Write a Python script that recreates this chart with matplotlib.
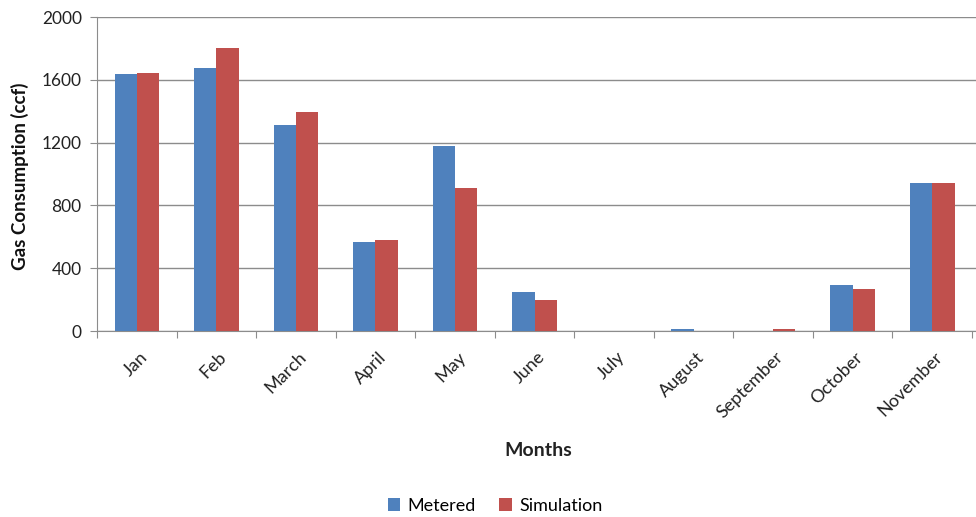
import matplotlib.pyplot as plt
import numpy as np

months = ["Jan", "Feb", "March", "April", "May", "June", "July",
          "August", "September", "October", "November"]
metered = [1635, 1675, 1315, 570, 1180, 250, 0, 10, 0, 290, 940]
simulation = [1645, 1805, 1395, 582, 910, 200, 0, 0, 10, 270, 940]

plt.rcParams['font.family'] = ['Lato', 'DejaVu Sans']

fig = plt.figure(figsize=(9.76, 5.17), dpi=100)
fig.patch.set_facecolor('white')
ax = fig.add_axes([97 / 976, 1 - 331 / 517, 1 - 97 / 976, 314 / 517])

x = np.arange(len(months))
w = 0.28
ax.bar(x - w / 2, metered, w, color='#4F81BD', label='Metered', zorder=3)
ax.bar(x + w / 2, simulation, w, color='#C0504D', label='Simulation', zorder=3)

ax.set_ylim(0, 2000)
ax.set_yticks(range(0, 2001, 400))
ax.set_xlim(-0.5, len(months) - 0.45)
ax.yaxis.grid(True, color='#8c8c8c', linewidth=1.0, zorder=0)

# category boundaries get the tick marks, labels sit on the centres
ax.set_xticks(np.arange(-0.5, len(months), 1.0))
ax.set_xticklabels([])
ax.set_xticks(x + 0.1, minor=True)
ax.set_xticklabels(months, minor=True, rotation=45, ha='right', va='center',
                   rotation_mode='anchor', fontsize=13, color='#222222')
ax.tick_params(axis='x', which='minor', length=0, pad=17)
ax.tick_params(axis='x', which='major', length=5, color='#8c8c8c', direction='out')
ax.tick_params(axis='y', length=5, color='#8c8c8c', labelsize=12.5,
               labelcolor='#222222', pad=6)

for s in ['top', 'right']:
    ax.spines[s].set_visible(False)
ax.spines['left'].set_color('#8c8c8c')
ax.spines['bottom'].set_color('#8c8c8c')

fig.text(20 / 976, 1 - 176 / 517, 'Gas Consumption (ccf)', rotation=90,
         ha='center', va='center', fontsize=13.5, fontweight='bold', color='#111111')
fig.text(538 / 976, 1 - 450 / 517, 'Months', ha='center', va='center',
         fontsize=14, fontweight='bold', color='#222222')

fig.legend(loc='center', bbox_to_anchor=(495 / 976, 1 - 506 / 517), ncol=2,
           frameon=False, fontsize=13, handlelength=0.7, handleheight=0.7,
           handletextpad=0.4, columnspacing=1.3)

plt.savefig('out.png', dpi=100, facecolor='white')
plt.close(fig)
